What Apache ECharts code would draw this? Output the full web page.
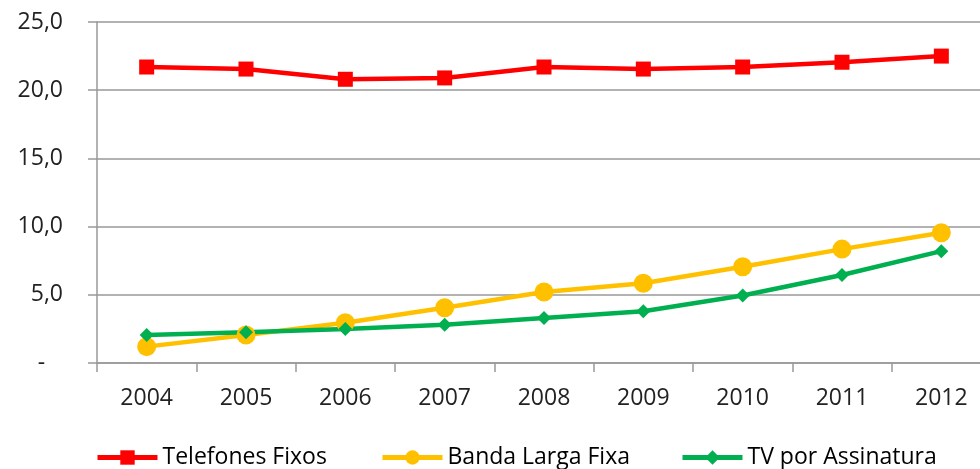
<!DOCTYPE html>
<html><head><meta charset="utf-8">
<script src="https://cdn.jsdelivr.net/npm/echarts@6/dist/echarts.min.js"></script>
<style>html,body{margin:0;padding:0;background:#fff}#c{width:980px;height:469px}</style>
</head><body><div id="c"></div>
<script>
const categories = ['2004','2005','2006','2007','2008','2009','2010','2011','2012'];
const telefonesFixos = [21.7, 21.55, 20.8, 20.9, 21.7, 21.55, 21.7, 22.05, 22.5];
const bandaLargaFixa = [1.2, 2.05, 2.95, 4.05, 5.2, 5.85, 7.05, 8.35, 9.55];
const tvAssinatura = [2.05, 2.25, 2.5, 2.8, 3.3, 3.8, 4.95, 6.45, 8.2];
const seriesNames = ['Telefones Fixos', 'Banda Larga Fixa', 'TV por Assinatura'];
const yTicks = [0, 5, 10, 15, 20, 25];

const font = 'Open Sans';
const legendLefts = [90, 375, 675];
const chart = echarts.init(document.getElementById('c'));
chart.setOption({
  animation: false,
  grid: { left: 97, width: 894, top: 22, height: 341, containLabel: false, outerBoundsMode: 'none' },
  legend: seriesNames.map((n, i) => ({
    top: 441, left: legendLefts[i],
    itemWidth: 60, itemHeight: 18, itemGap: 4,
    lineStyle: { width: 5 },
    textStyle: { fontFamily: font, fontSize: 23, color: '#000' },
    data: [n]
  })),
  xAxis: {
    type: 'category', data: categories, boundaryGap: true,
    axisLine: { lineStyle: { color: '#999', width: 1.5 } },
    axisTick: { show: true, length: 9, lineStyle: { color: '#999', width: 1.5 } },
    axisLabel: { fontFamily: font, fontSize: 23, color: '#222', margin: 24 }
  },
  yAxis: {
    type: 'value', min: yTicks[0], max: yTicks[yTicks.length-1], interval: 5,
    axisLine: { show: true, lineStyle: { color: '#999', width: 1.5 } },
    axisTick: { show: true, length: 9, lineStyle: { color: '#999', width: 1.5 } },
    splitLine: { lineStyle: { color: '#999', width: 1.5 } },
    axisLabel: {
      fontFamily: font, fontSize: 23, color: '#222', margin: 34,
      formatter: v => v === 0 ? '-   ' : v.toFixed(1).replace('.', ',')
    }
  },
  series: [
    { name: seriesNames[0], type: 'line', data: telefonesFixos, symbol: 'rect', symbolSize: 15,
      lineStyle: { color: '#FF0000', width: 4.5 }, itemStyle: { color: '#FF0000' } },
    { name: seriesNames[1], type: 'line', data: bandaLargaFixa, symbol: 'circle', symbolSize: 19,
      lineStyle: { color: '#FFC000', width: 4.5 }, itemStyle: { color: '#FFC000' } },
    { name: seriesNames[2], type: 'line', data: tvAssinatura, symbol: 'diamond', symbolSize: 14,
      lineStyle: { color: '#00B050', width: 4.5 }, itemStyle: { color: '#00B050' } }
  ]
});
</script></body></html>
